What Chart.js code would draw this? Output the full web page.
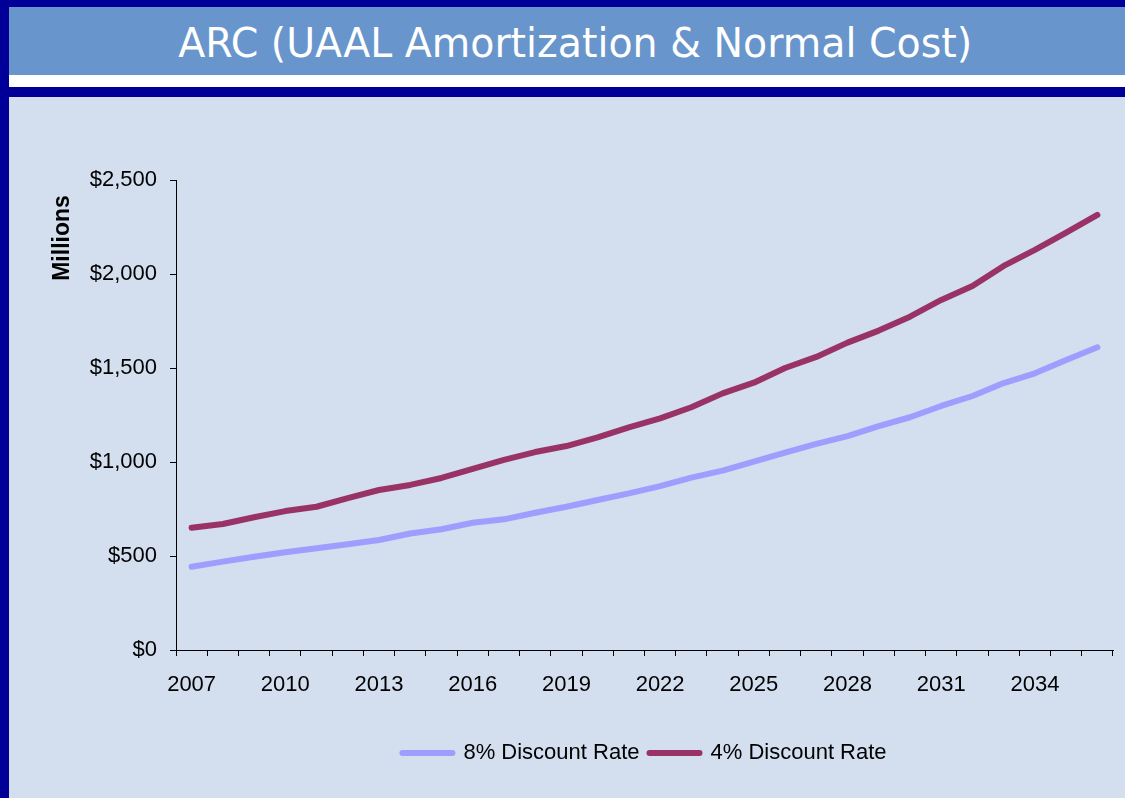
<!DOCTYPE html>
<html>
<head>
<meta charset="utf-8">
<script src="https://cdn.jsdelivr.net/npm/chart.js@4.4.1/dist/chart.umd.min.js"></script>
<style>
  html, body { margin: 0; padding: 0; }
  body { width: 1125px; height: 798px; background: #000099; position: relative; overflow: hidden; }
  .blk { position: absolute; }
  #title { position: absolute; left: 25px; width: 1100px; top: 19px; text-align: center;
           font-family: "DejaVu Sans", sans-serif; font-size: 40px; line-height: 48px; color: #fff; white-space: nowrap; }
  #title span { display: inline-block; transform-origin: 50% 50%; }
  #c { position: absolute; left: 0; top: 0; }
</style>
</head>
<body>
<div class="blk" style="left:9px;top:7px;width:1116px;height:68px;background:#6895CB"></div>
<div class="blk" style="left:9px;top:75px;width:1116px;height:12px;background:#ffffff"></div>
<div class="blk" style="left:9px;top:97px;width:1116px;height:701px;background:#D3DEEF"></div>
<div id="title"><span id="tspan">ARC (UAAL Amortization &amp; Normal Cost)</span></div>
<canvas id="c" width="1125" height="798"></canvas>
<script>
// ---- data ----
const years = [2007, 2008, 2009, 2010, 2011, 2012, 2013, 2014, 2015, 2016,
               2017, 2018, 2019, 2020, 2021, 2022, 2023, 2024, 2025, 2026,
               2027, 2028, 2029, 2030, 2031, 2032, 2033, 2034, 2035, 2036];
const rate8 = [443, 470, 496, 520, 541, 562, 585, 620, 642, 677,
               695, 730, 762, 798, 833, 872, 917, 954, 1002, 1050,
               1096, 1138, 1191, 1238, 1298, 1351, 1420, 1472, 1543, 1610];
const rate4 = [650, 670, 706, 739, 762, 808, 851, 878, 915, 963,
               1011, 1053, 1085, 1131, 1184, 1232, 1291, 1365, 1422, 1500,
               1559, 1635, 1699, 1773, 1862, 1936, 2043, 2128, 2220, 2314];
const seriesNames = ['8% Discount Rate', '4% Discount Rate'];
const yTicks = [0, 500, 1000, 1500, 2000, 2500];
const yTitle = 'Millions';
const labelEvery = 3;

// ---- title fit ----
(function () {
  const s = document.getElementById('tspan');
  const w = s.getBoundingClientRect().width;
  s.style.transform = 'scaleX(' + (794 / w) + ')';
})();

const FONT = '"Liberation Sans", Arial, sans-serif';
Chart.defaults.font.family = FONT;
Chart.defaults.color = '#000';

const yTitlePlugin = {
  id: 'yTitlePlugin',
  afterDraw(chart) {
    const ctx = chart.ctx;
    const a = chart.chartArea;
    ctx.save();
    ctx.translate(a.left - 113, a.top + 58);
    ctx.rotate(-Math.PI / 2);
    ctx.font = 'bold 23px ' + FONT;
    ctx.fillStyle = '#000';
    ctx.textAlign = 'center';
    ctx.textBaseline = 'middle';
    ctx.fillText(yTitle, 0, 0);
    ctx.restore();
  }
};

new Chart(document.getElementById('c'), {
  type: 'line',
  data: {
    labels: years.map(String),
    datasets: [
      { label: seriesNames[0], data: rate8, borderColor: '#9E9EFF', backgroundColor: '#9E9EFF',
        borderWidth: 6, pointRadius: 0, tension: 0, borderCapStyle: 'round', borderJoinStyle: 'round', fill: false },
      { label: seriesNames[1], data: rate4, borderColor: '#993366', backgroundColor: '#993366',
        borderWidth: 6, pointRadius: 0, tension: 0, borderCapStyle: 'round', borderJoinStyle: 'round', fill: false }
    ]
  },
  options: {
    responsive: false,
    animation: false,
    devicePixelRatio: 1,
    layout: { padding: { left: 0, top: 180, right: 12, bottom: 24 } },
    plugins: {
      tooltip: { enabled: false },
      legend: {
        position: 'bottom',
        fullSize: false,
        labels: {
          font: { size: 22 },
          color: '#000',
          boxWidth: 50,
          boxHeight: 0,
          padding: 10
        }
      }
    },
    scales: {
      x: {
        type: 'category',
        offset: true,
        grid: { display: true, offset: true, drawOnChartArea: false, drawTicks: true, tickLength: 6, color: '#000', lineWidth: 1 },
        border: { display: true, color: '#000', width: 1 },
        ticks: {
          autoSkip: false, maxRotation: 0, minRotation: 0, padding: 16,
          font: { size: 22 }, color: '#000',
          callback: function (v, i) { return i % labelEvery === 0 ? years[i] : ''; }
        },
        afterFit: function (s) { s.height = 82; }
      },
      y: {
        min: yTicks[0], max: yTicks[yTicks.length - 1],
        afterBuildTicks: function (s) { s.ticks = yTicks.map(v => ({ value: v })); },
        grid: { display: true, drawOnChartArea: false, drawTicks: true, tickLength: 6, color: '#000', lineWidth: 1 },
        border: { display: true, color: '#000', width: 1 },
        ticks: {
          padding: 13, font: { size: 22 }, color: '#000',
          callback: function (v) { return '$' + Number(v).toLocaleString('en-US'); }
        },
        afterFit: function (s) { s.width = 176; }
      }
    }
  },
  plugins: [yTitlePlugin]
});
</script>
</body>
</html>
